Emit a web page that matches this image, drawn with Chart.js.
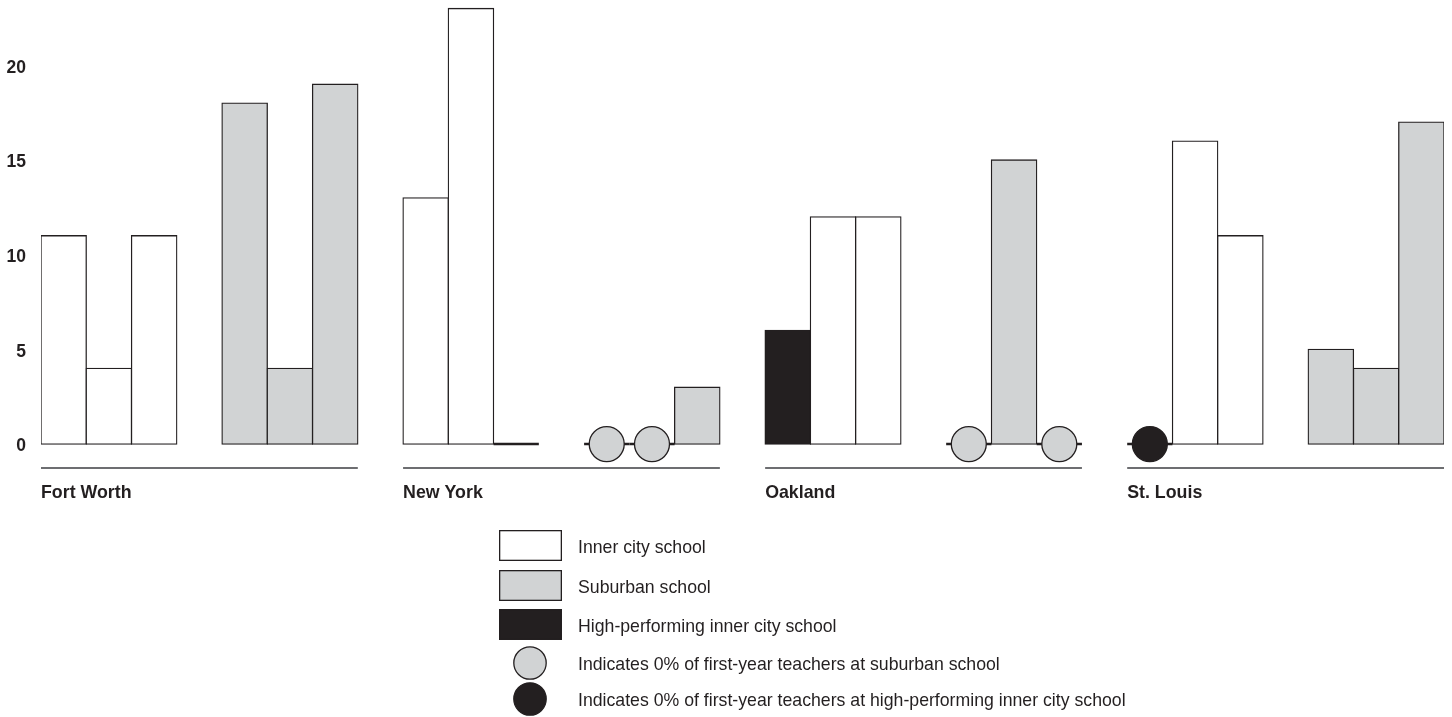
<!DOCTYPE html>
<html><head><meta charset="utf-8">
<script src="https://cdn.jsdelivr.net/npm/chart.js@4.4.1/dist/chart.umd.min.js"></script>
<style>html,body{margin:0;padding:0;background:#fff;}#wrap{width:1452px;height:717px;position:relative;}</style>
</head><body><div id="wrap"><canvas id="c" width="1452" height="717"></canvas></div>
<script>
// ---- data (percent of first-year teachers) ----
const cities = ['Fort Worth', 'New York', 'Oakland', 'St. Louis'];
// three school slots per city (left block)
const innerCity      = [11, 4, 11,   13, 23, 0,   null, 12, 12,   null, 16, 11];
const highPerforming = [null, null, null,   null, null, null,   6, null, null,   0, null, null];
// three school slots per city (right block)
const suburban       = [18, 4, 19,   0, 0, 3,   0, 15, 0,   5, 4, 17];
const yTicks = [0, 5, 10, 15, 20];
const legendLabels = [
  'Inner city school',
  'Suburban school',
  'High-performing inner city school',
  'Indicates 0% of first-year teachers at suburban school',
  'Indicates 0% of first-year teachers at high-performing inner city school'
];

const GRAY = '#d1d3d4', INK = '#231f20', WHITE = '#ffffff';
const FONT = '"Liberation Sans", Arial, Helvetica, sans-serif';

const PER_CITY = 8;                       // 3 left + gap + 3 right + gap
const nSlots = cities.length * PER_CITY - 1;
const labels = Array.from({length: nSlots}, (_, i) => String(i));
function spread(arr, offset) {
  const out = new Array(nSlots).fill(null);
  arr.forEach((v, i) => { const c = Math.floor(i / 3), k = i % 3; out[c * PER_CITY + offset + k] = v; });
  return out;
}
const innerSlots = spread(innerCity, 0);
const highSlots = spread(highPerforming, 0);
const subSlots = spread(suburban, 4);
const pos = v => (v !== null && v > 0) ? v : null;
const zero = v => v === 0 ? 0 : null;
const zeroSlots = labels.map((_, i) => (innerSlots[i] === 0 || highSlots[i] === 0 || subSlots[i] === 0) ? 0 : null);

const barCommon = {
  type: 'bar', grouped: false, barPercentage: 1, categoryPercentage: 1,
  borderColor: INK, borderWidth: 1.3, borderSkipped: false, inflateAmount: 0.65, order: 1
};

const decor = {
  id: 'decor',
  afterDraw(chart) {
    const ctx = chart.ctx, x = chart.scales.x, y = chart.scales.y;
    const half = (x.getPixelForValue(1) - x.getPixelForValue(0)) / 2;
    const base = y.getPixelForValue(0);
    ctx.save();
    cities.forEach((name, c) => {
      const l = x.getPixelForValue(c * PER_CITY) - half;
      const r = x.getPixelForValue(c * PER_CITY + 6) + half;
      ctx.strokeStyle = '#6d6e71'; ctx.lineWidth = 2;
      ctx.beginPath(); ctx.moveTo(l, base + 24); ctx.lineTo(r, base + 24); ctx.stroke();
      ctx.fillStyle = INK; ctx.font = 'bold 17.8px ' + FONT;
      ctx.textAlign = 'left'; ctx.textBaseline = 'alphabetic';
      ctx.fillText(name, l, base + 54);
    });
    // legend
    const rows = [
      {kind: 'box', fill: WHITE, cy: 545.5},
      {kind: 'box', fill: GRAY, cy: 585.5},
      {kind: 'box', fill: INK, cy: 624.5},
      {kind: 'dot', fill: GRAY, cy: 663},
      {kind: 'dot', fill: INK, cy: 699}
    ];
    rows.forEach((r, i) => {
      ctx.fillStyle = r.fill; ctx.strokeStyle = INK; ctx.lineWidth = 1.3;
      if (r.kind === 'box') {
        ctx.fillRect(499, r.cy - 15.5, 63, 31);
        ctx.strokeRect(499.65, r.cy - 14.85, 61.7, 29.7);
      } else {
        ctx.beginPath(); ctx.arc(530, r.cy, 16.2, 0, Math.PI * 2); ctx.fill(); ctx.stroke();
      }
      ctx.fillStyle = INK; ctx.font = '17.7px ' + FONT;
      ctx.textAlign = 'left'; ctx.textBaseline = 'alphabetic';
      ctx.fillText(legendLabels[i], 578, r.cy + 7.4);
    });
    ctx.restore();
  }
};

new Chart(document.getElementById('c'), {
  data: {
    labels,
    datasets: [
      {type: 'line', label: 'zero-suburban', data: subSlots.map(zero), showLine: false,
       pointRadius: 17.5, pointHoverRadius: 17.5, pointBackgroundColor: GRAY, pointBorderColor: INK,
       pointBorderWidth: 1.3, order: 0, clip: false},
      {type: 'line', label: 'zero-high', data: highSlots.map(zero), showLine: false,
       pointRadius: 17.5, pointHoverRadius: 17.5, pointBackgroundColor: INK, pointBorderColor: INK,
       pointBorderWidth: 1.3, order: 0, clip: false},
      Object.assign({}, barCommon, {label: legendLabels[0], data: innerSlots.map(pos), backgroundColor: WHITE}),
      Object.assign({}, barCommon, {label: legendLabels[1], data: subSlots.map(pos), backgroundColor: GRAY}),
      Object.assign({}, barCommon, {label: legendLabels[2], data: highSlots.map(pos), backgroundColor: INK}),
      {type: 'bar', label: 'zero-line', data: zeroSlots, grouped: false, barPercentage: 1, categoryPercentage: 1,
       backgroundColor: INK, borderWidth: 0, minBarLength: 2.6, inflateAmount: 0, order: 2}
    ]
  },
  options: {
    responsive: false, animation: false, devicePixelRatio: 1,
    layout: {autoPadding: false, padding: {left: 0, top: 0, right: 8, bottom: 254}},
    plugins: {legend: {display: false}, tooltip: {enabled: false}},
    events: [],
    scales: {
      x: {type: 'category', display: false, offset: true, grid: {display: false}},
      y: {
        min: -1, max: 23.45,
        grid: {display: false, drawTicks: false}, border: {display: false},
        ticks: {padding: 15, labelOffset: 2.5, color: INK, font: {family: FONT, size: 17.5, weight: 'bold'}},
        afterBuildTicks: s => { s.ticks = yTicks.map(v => ({value: v})); },
        afterFit: s => { s.width = 41; s.paddingTop = 0; s.paddingBottom = 0; }
      }
    }
  },
  plugins: [decor]
});
</script></body></html>
